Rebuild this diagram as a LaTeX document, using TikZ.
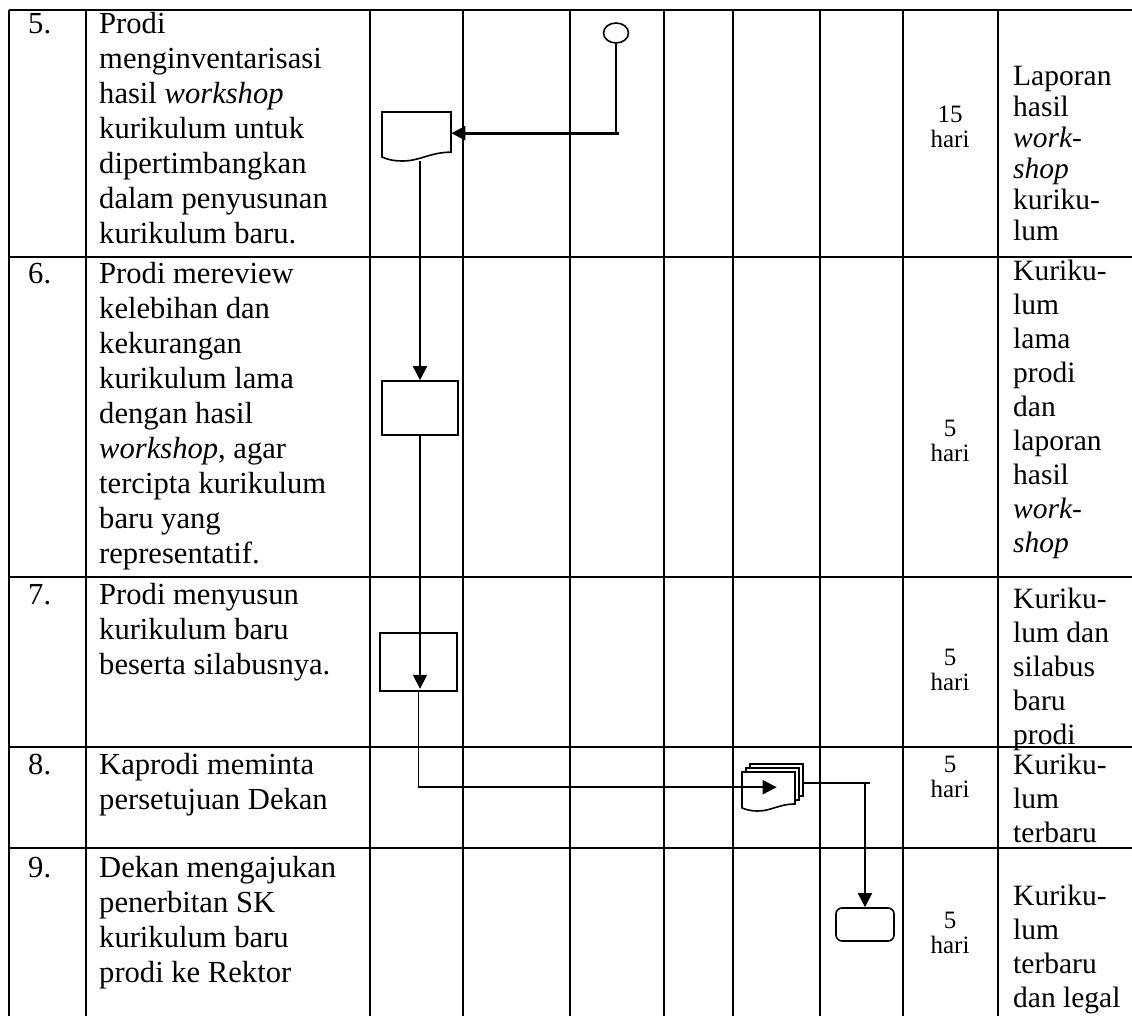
\documentclass[tikz,border=0pt]{standalone}
\usepackage{fontspec}
\setmainfont{Liberation Serif}
\usetikzlibrary{arrows.meta,shapes.geometric,calc}
\newcommand\myLs{\rule{0pt}{26pt}}
\newcommand\myRs{\rule{0pt}{25pt}}
\newcommand\mySs{\rule{0pt}{22pt}}
% document shape: left, top, width, height (px, y downward)
\newcommand\docshape[4]{%
  \draw[line width=1.6pt,fill=white] (#1,-#2) -- ({#1+#3},-#2) -- ({#1+#3},{-(#2+0.82*#4)})
  .. controls ({#1+0.7*#3},{-(#2+0.82*#4)}) and ({#1+0.55*#3},{-(#2+#4)}) .. ({#1+0.3*#3},{-(#2+#4)})
  .. controls ({#1+0.15*#3},{-(#2+#4)}) and ({#1+0.07*#3},{-(#2+0.96*#4)}) .. (#1,{-(#2+0.92*#4)}) -- cycle;}
\begin{document}
\begin{tikzpicture}[x=1pt,y=1pt,
  grid/.style={line width=2pt},
  conn/.style={line width=1.8pt},
  arr/.style={conn,-{Triangle[length=14pt,width=14pt]}},
  shp/.style={draw,line width=1.6pt,fill=white,inner sep=0},
  hook/.style={inner sep=0,draw=none,anchor=north west},
  ltext/.style={font=\fontsize{30.6}{35}\selectfont,anchor=north west,inner sep=0,align=left},
  rtext/.style={font=\fontsize{29.5}{34}\selectfont,anchor=north west,inner sep=0,align=left},
  rtextc/.style={font=\fontsize{29.5}{31}\selectfont,anchor=north west,inner sep=0,align=left},
  stext/.style={font=\fontsize{25}{25}\selectfont,anchor=north,inner sep=0,align=center},
]
\useasboundingbox (0,0) rectangle (1132,-1016);
% table grid
\draw[grid] (9,-10) -- (1132,-10);
\foreach \y in {257,577,747,848} \draw[grid] (9,-\y) -- (1132,-\y);
\foreach \x in {9,86,370,463,570,664,733,820,903,998} \draw[grid] (\x,-10) -- (\x,-1016);

% numbers
\node[ltext] (n5) at (28,-7) {\myLs 5.};
\node[ltext] (n6) at (28,-257) {\myLs 6.};
\node[ltext] (n7) at (28,-578) {\myLs 7.};
\node[ltext] (n8) at (28,-748) {\myLs 8.};
\node[ltext] (n9) at (28,-851) {\myLs 9.};

% activity texts
\node[ltext] (a5) at (99,-7) {\myLs Prodi\\menginventarisasi\\hasil \textit{workshop}\\kurikulum untuk\\dipertimbangkan\\dalam penyusunan\\kurikulum baru.};
\node[ltext] (a6) at (99,-257) {\myLs Prodi mereview\\kelebihan dan\\kekurangan\\kurikulum lama\\dengan hasil\\\textit{workshop}, agar\\tercipta kurikulum\\baru yang\\representatif.};
\node[ltext] (a7) at (99,-578) {\myLs Prodi menyusun\\kurikulum baru\\beserta silabusnya.};
\node[ltext] (a8) at (99,-748) {\myLs Kaprodi meminta\\persetujuan Dekan};
\node[ltext] (a9) at (99,-851) {\myLs Dekan mengajukan\\penerbitan SK\\kurikulum baru\\prodi ke Rektor};

% durations
\node[stext] (w5) at (950,-100) {\mySs 15\\hari};
\node[stext] (w6) at (950,-414) {\mySs 5\\hari};
\node[stext] (w7) at (950,-643) {\mySs 5\\hari};
\node[stext] (w8) at (950,-750) {\mySs 5\\hari};
\node[stext] (w9) at (950,-906) {\mySs 5\\hari};

% outputs
\node[rtextc] (o5) at (1013,-60) {\myRs Laporan\\hasil\\\textit{work-}\\\textit{shop}\\kuriku-\\lum};
\node[rtext] (o6) at (1013,-255) {\myRs Kuriku-\\lum\\lama\\prodi\\dan\\laporan\\hasil\\\textit{work-}\\\textit{shop}};
\node[rtext] (o7) at (1013,-583) {\myRs Kuriku-\\lum dan\\silabus\\baru\\prodi};
\node[rtext] (o8) at (1013,-749) {\myRs Kuriku-\\lum\\terbaru};
\node[rtext] (o9) at (1013,-880) {\myRs Kuriku-\\lum\\terbaru\\dan legal};

% flowchart symbols
\node[shp, ellipse, minimum width=25pt, minimum height=20pt] (c1) at (616,-33) {};
\docshape{382}{112}{69}{49}
\node[hook, minimum width=69pt, minimum height=49pt] (d1) at (382,-112) {};
\node[shp, minimum width=76pt, minimum height=54pt] (r6) at (420,-408) {};
\node[shp, minimum width=77pt, minimum height=58pt] (r7) at (418.5,-662) {};
\docshape{750}{764}{53}{39}
\docshape{746}{768}{53}{39}
\docshape{742}{772}{53}{39}
\node[hook, minimum width=53pt, minimum height=39pt] (md) at (742,-772) {};
\node[shp, rounded corners=6pt, minimum width=58pt, minimum height=33pt] (tm) at (865,-924.5) {};

% connectors
\coordinate (d1e) at ([yshift=3.5pt]d1.east);
\draw[conn] (c1.south) -- (c1.south |- d1e);
\draw[arr, line width=2.8pt] ([xshift=3pt]c1.south |- d1e) -- (d1e);
\draw[arr] (r6.north |- d1.south) -- (r6.north);
\draw[arr] (r6.south) -- ([yshift=3pt]r6.south |- r7.south);
\coordinate (mdin) at ([xshift=8pt,yshift=4.5pt]md.center);
\draw[arr] (r7.south) |- (mdin);
\coordinate (mdr) at (803,-783);
\draw[conn] (mdr) -- ([xshift=5pt]tm.north |- mdr);
\draw[arr] (tm.north |- mdr) -- (tm.north);
\end{tikzpicture}
\end{document}
